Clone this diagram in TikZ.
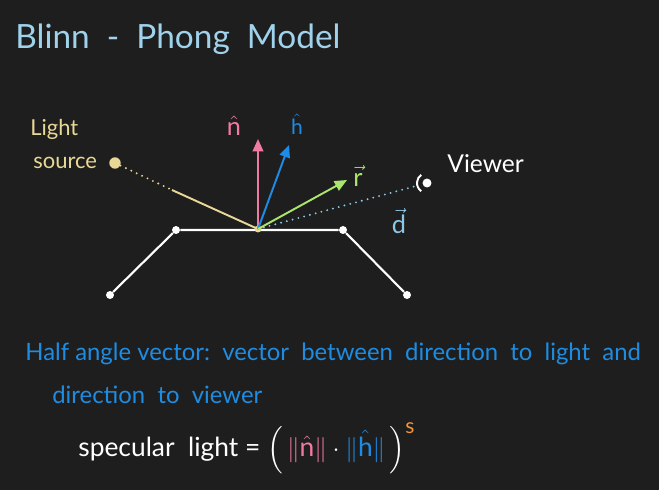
\documentclass[tikz,border=0pt]{standalone}
\usepackage{amsmath, amssymb}
\usepackage{fontspec}
\setmainfont{Lato}
\usetikzlibrary{arrows.meta}

\definecolor{board}{RGB}{30,30,30}
\definecolor{titleblue}{RGB}{160,210,236}
\definecolor{lightyellow}{RGB}{232,216,150}
\definecolor{normalpink}{RGB}{240,122,160}
\definecolor{halfblue}{RGB}{30,140,230}
\definecolor{reflgreen}{RGB}{170,230,110}
\definecolor{viewblue}{RGB}{140,200,230}
\definecolor{noteblue}{RGB}{30,140,225}
\definecolor{expo}{RGB}{240,150,60}

\begin{document}
\begin{tikzpicture}[x=0.02cm, y=-0.02cm,
    hand/.style={text=#1, inner sep=0pt, anchor=base west},
    ray/.style={line width=1.1pt, -{Triangle[length=7pt,width=6pt]}},
    corner/.style={circle, fill=white, inner sep=1.6pt},
    dots/.style={line width=1.2pt, line cap=round, dash pattern=on 0pt off 3.4pt}]
    % Board
    \fill[board] (0, 0) rectangle (659, 490);
    \useasboundingbox (0, 0) rectangle (659, 490);

    % Title
    \node[hand=titleblue, font=\fontsize{19}{22}\selectfont] (title) at (15, 48)
        {Blinn\ \ -\ \ Phong\ \ Model};

    % Surface
    \node[corner] (c1) at (110, 295) {};
    \node[corner] (c2) at (176, 230) {};
    \node[corner] (c3) at (343, 230) {};
    \node[corner] (c4) at (407, 295) {};
    \draw[white, line width=1.2pt] (c1) -- (c2) -- (c3) -- (c4);

    % Light source
    \node[hand=lightyellow, font=\fontsize{12.5}{14}\selectfont] (lightlbl) at (30, 135) {Light};
    \node[hand=lightyellow, font=\fontsize{12.5}{14}\selectfont] (sourcelbl) at (33, 168) {source};
    \node[circle, fill=lightyellow, inner sep=2.3pt] (light) at (115, 163) {};
    \coordinate (lbreak) at (172, 190);
    \node[circle, fill=lightyellow, inner sep=1.4pt] (hit) at (258, 229) {};
    \draw[lightyellow, dots] (light) -- (lbreak);
    \draw[lightyellow, line width=1.1pt] (lbreak) -- (hit.center);

    % Viewer
    \node[circle, fill=white, inner sep=1.8pt] (viewer) at (427, 183) {};
    \draw[white, line width=1.1pt] (viewer.center) ++(125:10) arc (125:235:10);
    \node[hand=white, font=\fontsize{14}{16}\selectfont] (viewerlbl) at (447, 172) {Viewer};
    \coordinate (vend) at (416, 186);
    \draw[viewblue, dots] (hit.center) -- (vend);

    % Vectors
    \coordinate (ntip) at (258, 139);
    \coordinate (htip) at (289, 145);
    \coordinate (rtip) at (347, 180);
    \draw[ray, normalpink] (hit.center) -- (ntip);
    \draw[ray, halfblue] (hit.center) -- (htip);
    \draw[ray, reflgreen] (hit.center) -- (rtip);
    \node[text=normalpink, font=\Large] (nlbl) at (234, 126) {$\hat{\mathrm{n}}$};
    \node[text=halfblue, font=\large] (hlbl) at (297, 124) {$\hat{\mathrm{h}}$};
    \node[text=reflgreen, font=\Large] (rlbl) at (358, 176) {$\vec{\mathrm{r}}$};
    \node[text=viewblue, font=\Large] (dlbl) at (399, 221) {$\vec{\mathrm{d}}$};

    % Half angle vector
    \node[hand=noteblue, font=\fontsize{13.6}{16}\selectfont] (note1) at (25, 360)
        {Half angle vector:\ \ vector\ \ between\ \ direction\ \ to\ \ light\ \ and};
    \node[hand=noteblue, font=\fontsize{13.6}{16}\selectfont] (note2) at (52, 403)
        {direction\ \ to\ \ viewer};

    % Specular light
    \node[hand=white, font=\fontsize{15}{18}\selectfont] (spec) at (78, 456)
        {specular\ \ light\ = $\Big(\,{\color{normalpink}\|\hat{\mathrm{n}}\|}\cdot
        {\color{halfblue}\|\hat{\mathrm{h}}\|}\,\Big)^{\text{\large\color{expo}s}}$};
\end{tikzpicture}
\end{document}
